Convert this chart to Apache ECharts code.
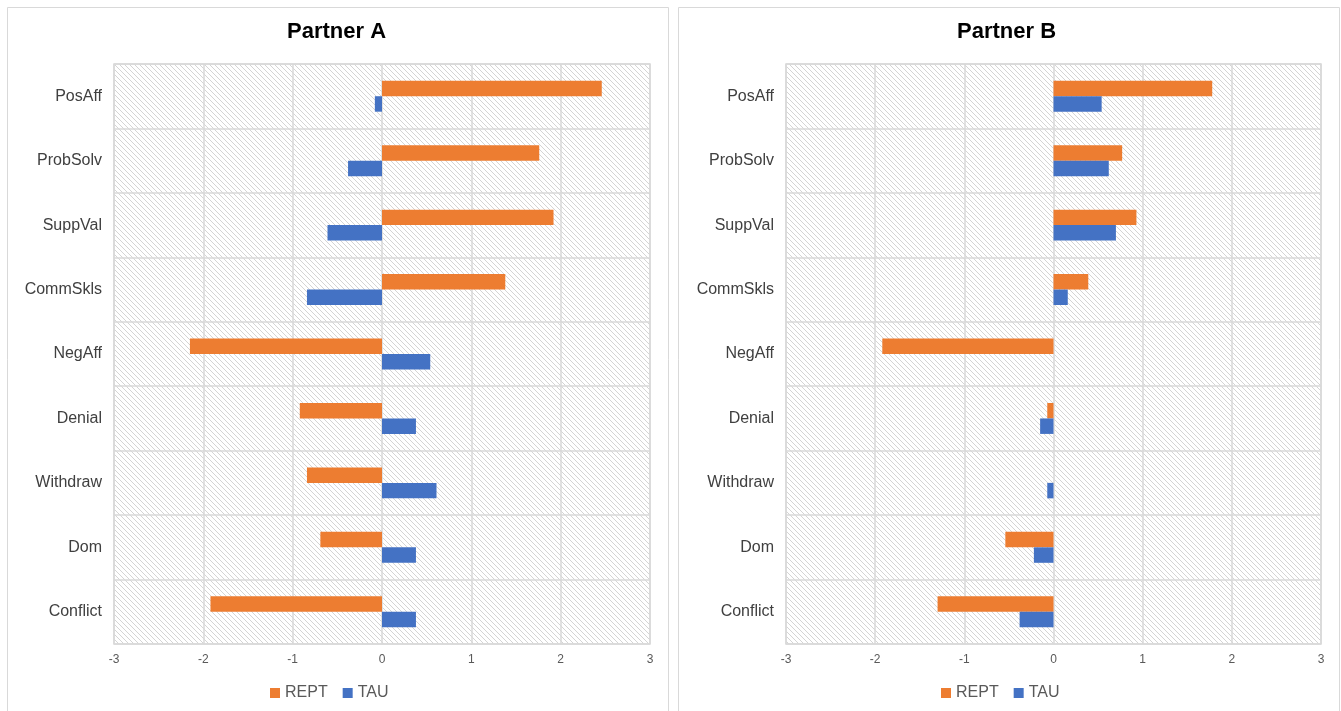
<!DOCTYPE html>
<html>
<head>
<meta charset="utf-8">
<script src="https://cdn.jsdelivr.net/npm/echarts@6/dist/echarts.min.js"></script>
<style>
html,body{margin:0;padding:0;background:#fff;}
#chart{width:1341px;height:711px;}
</style>
</head>
<body>
<div id="chart"></div>
<script>
const categories = ['PosAff','ProbSolv','SuppVal','CommSkls','NegAff','Denial','Withdraw','Dom','Conflict'];
const xTicks = [-3,-2,-1,0,1,2,3];
const partnerA_REPT = [2.46, 1.76, 1.92, 1.38, -2.15, -0.92, -0.84, -0.69, -1.92];
const partnerA_TAU  = [-0.08, -0.38, -0.61, -0.84, 0.54, 0.38, 0.61, 0.38, 0.38];
const partnerB_REPT = [1.78, 0.77, 0.93, 0.39, -1.92, -0.07, 0, -0.54, -1.30];
const partnerB_TAU  = [0.54, 0.62, 0.70, 0.16, 0, -0.15, -0.07, -0.22, -0.38];

const ORANGE = '#ED7D31', BLUE = '#4472C4', GRIDC = '#d9d9d9';

// hatch pattern tile
const tile = document.createElement('canvas');
tile.width = 5; tile.height = 5;
const tc = tile.getContext('2d');
tc.fillStyle = '#ffffff'; tc.fillRect(0,0,5,5);
tc.fillStyle = '#d4d4d4';
for (let i = 0; i < 5; i++) tc.fillRect(i, i, 1, 1);
const hatch = {image: tile, repeat: 'repeat'};

const chart = echarts.init(document.getElementById('chart'), null, {renderer:'canvas'});

function grid(left, right) {
  return {left: left, right: right, top: 64, bottom: 67, show: true,
    backgroundColor: hatch, borderColor: GRIDC, borderWidth: 1.5, containLabel: false};
}
function xAxis(idx) {
  return {type:'value', gridIndex: idx, min: xTicks[0], max: xTicks[xTicks.length-1], interval: 1,
    axisLine:{show:false}, axisTick:{show:false},
    axisLabel:{color:'#595959', fontSize:12, fontFamily:'Liberation Sans', margin:10},
    splitLine:{show:true, lineStyle:{color:GRIDC, width:1.5}}};
}
function yAxis(idx) {
  return {type:'category', gridIndex: idx, data: categories, inverse: true,
    axisLine:{show:false}, axisTick:{show:false},
    axisLabel:{color:'#404040', fontSize:16, fontFamily:'Liberation Sans', margin:12},
    splitLine:{show:true, lineStyle:{color:GRIDC, width:1.5}}};
}
function bar(name, data, color, idx) {
  return {name: name, type:'bar', xAxisIndex: idx, yAxisIndex: idx, data: data,
    itemStyle:{color: color}, barGap:'0%', barCategoryGap:'52%', silent: true};
}
function legend(left) {
  return {left: left, top: 680, data:['REPT','TAU'], icon:'rect', itemWidth:10, itemHeight:10,
    itemGap: 15, selectedMode:false,
    textStyle:{color:'#595959', fontSize:16, fontFamily:'Liberation Sans'}};
}

chart.setOption({
  backgroundColor:'#fff',
  animation:false,
  color:[ORANGE, BLUE],
  title:[
    {text:'Partner A', left: 282, top: 16, textStyle:{fontSize:22, fontWeight:'bold', color:'#000', fontFamily:'Liberation Sans'}},
    {text:'Partner B', left: 952, top: 16, textStyle:{fontSize:22, fontWeight:'bold', color:'#000', fontFamily:'Liberation Sans'}}
  ],
  legend:[legend(265), legend(936)],
  grid:[grid(114, 691), grid(786, 20)],
  xAxis:[xAxis(0), xAxis(1)],
  yAxis:[yAxis(0), yAxis(1)],
  graphic:[
    {type:'rect', shape:{x:7.5, y:7.5, width:661, height:720}, style:{fill:null, stroke:GRIDC, lineWidth:1}, silent:true, z:-1},
    {type:'rect', shape:{x:678.5, y:7.5, width:661, height:720}, style:{fill:null, stroke:GRIDC, lineWidth:1}, silent:true, z:-1}
  ],
  series:[
    bar('REPT', partnerA_REPT, ORANGE, 0),
    bar('TAU', partnerA_TAU, BLUE, 0),
    bar('REPT', partnerB_REPT, ORANGE, 1),
    bar('TAU', partnerB_TAU, BLUE, 1)
  ]
});
</script>
</body>
</html>
